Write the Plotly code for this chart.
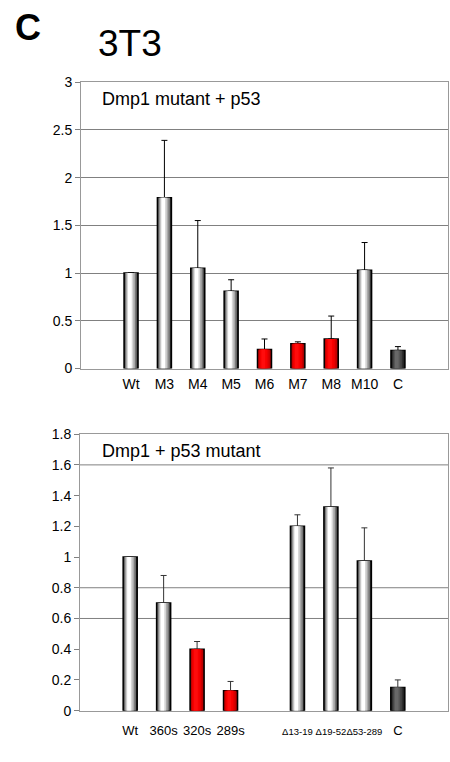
import plotly.graph_objects as go

# ---- data ----
top_categories = ["Wt", "M3", "M4", "M5", "M6", "M7", "M8", "M10", "C"]
top_values = [1.0, 1.79, 1.05, 0.81, 0.20, 0.26, 0.31, 1.03, 0.19]
top_err_top = [1.0, 2.39, 1.55, 0.93, 0.31, 0.28, 0.55, 1.32, 0.23]
top_kind = ["w", "w", "w", "w", "r", "r", "r", "w", "d"]

bot_categories = ["Wt", "360s", "320s", "289s", " ", "Δ13-19", "Δ19-52", "Δ53-289", "C"]
bot_values = [1.0, 0.70, 0.40, 0.13, None, 1.20, 1.325, 0.975, 0.15]
bot_err_top = [1.0, 0.88, 0.45, 0.19, None, 1.275, 1.58, 1.19, 0.20]
bot_kind = ["w", "w", "r", "r", "w", "w", "w", "w", "d"]
bot_gridlines = [1.6, 0.8, 0.6]

palettes = {
    "w": ["#262626", "#767676", "#aaaaaa", "#d6d6d6", "#ffffff"],
    "r": ["#900000", "#c80000", "#e80000", "#f80000", "#ff0c0c"],
    "d": ["#161616", "#2e2e2e", "#444444", "#565656", "#686868"],
}
# (left, right) edges of each gradient layer relative to the category centre
layer_edges = [(-0.21, 0.21), (-0.18, 0.17), (-0.15, 0.12), (-0.12, 0.07), (-0.09, 0.02)]

FONT = "Liberation Sans, Arial, sans-serif"
W, H = 450, 762


def px(x):
    return x / W


def py(y):
    return 1 - y / H


fig = go.Figure()


def add_bars(cats, vals, errs, kinds, xa, ya, errcolor):
    plus = [(e - v) if (v is not None and e is not None) else None for v, e in zip(vals, errs)]
    for i, (l, r) in enumerate(layer_edges):
        colors = [palettes[k][i] for k in kinds]
        kw = {}
        if i == 0:
            kw["error_y"] = dict(type="data", symmetric=False, array=plus,
                                 arrayminus=[0] * len(vals), color=errcolor,
                                 thickness=1, width=3)
            kw["marker"] = dict(color=colors, line=dict(color="#000000", width=1.5))
        else:
            kw["marker"] = dict(color=colors, line=dict(width=0))
        fig.add_trace(go.Bar(x=cats, y=vals, width=r - l, offset=l, xaxis=xa, yaxis=ya,
                             showlegend=False, hoverinfo="skip", **kw))


add_bars(top_categories, top_values, top_err_top, top_kind, "x", "y", "#000000")
add_bars(bot_categories, bot_values, bot_err_top, bot_kind, "x2", "y2", "#333333")

for yv in bot_gridlines:
    fig.add_shape(type="line", xref="x2 domain", yref="y2", x0=0, x1=1, y0=yv, y1=yv,
                  line=dict(color="#808080", width=1), layer="below")

axcommon = dict(showline=True, linecolor="#999999", linewidth=1, mirror=True)

bot_ticktext = [c if not c.startswith("Δ") else f"<span style='font-size:9.5px'>{c}</span>"
                for c in bot_categories]

fig.update_layout(
    width=W, height=H, margin=dict(l=0, r=0, t=0, b=0),
    paper_bgcolor="white", plot_bgcolor="white", barmode="overlay",
    font=dict(family=FONT, color="#000000", size=14),
    xaxis=dict(domain=[px(81), px(448)], anchor="y", type="category",
               categoryorder="array", categoryarray=top_categories,
               range=[-1.5, 9.5], ticks="outside", ticklen=3, tickcolor="rgba(0,0,0,0)",
               showgrid=False, tickangle=0, tickfont=dict(size=14), **axcommon),
    yaxis=dict(domain=[py(368.3), py(75.7)], anchor="x", range=[0, 3],
               dtick=0.5, ticks="outside", ticklen=5, tickcolor="#808080",
               showgrid=True, gridcolor="#808080", gridwidth=1, zeroline=False,
               tickfont=dict(size=14), **axcommon),
    xaxis2=dict(domain=[px(80), px(448)], anchor="y2", type="category",
                categoryorder="array", categoryarray=bot_categories,
                tickvals=bot_categories, ticktext=bot_ticktext,
                range=[-1.5, 9.5], ticks="outside", ticklen=8, tickcolor="rgba(0,0,0,0)",
                showgrid=False, tickangle=0, tickfont=dict(size=13), **axcommon),
    yaxis2=dict(domain=[py(717.7), py(435.3)], anchor="x2", range=[0, 1.8],
                dtick=0.2, ticks="outside", ticklen=5, tickcolor="#808080",
                showgrid=False, zeroline=False, tickfont=dict(size=14), **axcommon),
    annotations=[
        dict(text="<b>C</b>", x=px(28), y=py(20), xref="paper", yref="paper",
             xanchor="center", yanchor="middle", showarrow=False, font=dict(size=36)),
        dict(text="3T3", x=px(130), y=py(36), xref="paper", yref="paper",
             xanchor="center", yanchor="middle", showarrow=False, font=dict(size=37)),
        dict(text="Dmp1 mutant + p53", x=px(100), y=py(93), xref="paper", yref="paper",
             xanchor="left", yanchor="middle", showarrow=False, font=dict(size=18)),
        dict(text="Dmp1 + p53 mutant", x=px(100), y=py(453), xref="paper", yref="paper",
             xanchor="left", yanchor="middle", showarrow=False, font=dict(size=18)),
    ],
)

# pin the figure to the page's top-left corner (no body margin)
post = ("document.documentElement.style.margin='0';document.body.style.margin='0';"
        "document.body.style.overflow='hidden';"
        "var g=document.getElementById('{plot_id}');"
        "g.style.position='absolute';g.style.left='0px';g.style.top='0px';")

fig.write_html("out.html", post_script=post, config={"displayModeBar": False})
